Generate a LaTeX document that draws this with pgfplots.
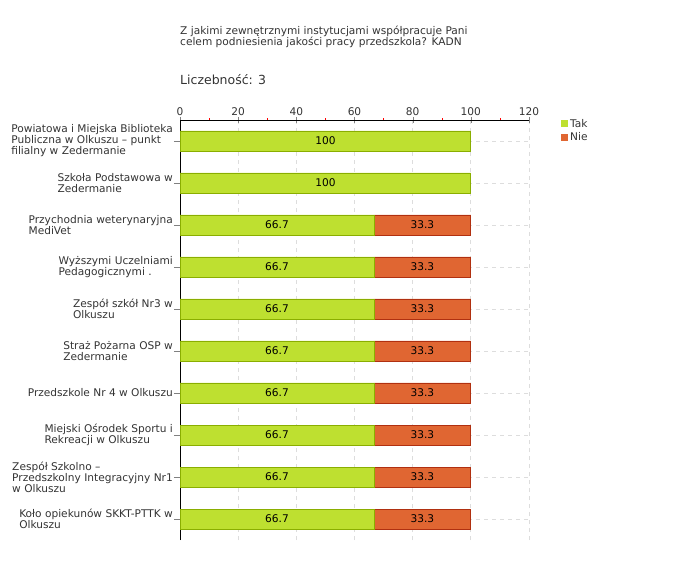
\documentclass[border=0pt]{standalone}
\usepackage{pgfplots}
\pgfplotsset{compat=1.18}
\usepackage{fontspec}
\setmainfont{DejaVu Sans}
\definecolor{takfill}{HTML}{BEE030}
\definecolor{takdraw}{HTML}{8AAE00}
\definecolor{niefill}{HTML}{E06632}
\definecolor{niedraw}{HTML}{B03010}
\definecolor{txt}{HTML}{333333}
\definecolor{gridc}{HTML}{DDDDDD}
\newcommand\sm{\fontsize{10.6}{11}\selectfont}
\begin{document}
\begin{tikzpicture}[x=1pt,y=1pt]
\useasboundingbox (0,0) rectangle (680,560);
\node[anchor=base west, text=txt, inner sep=0pt] at (180,525) {\sm Z jakimi zewnętrznymi instytucjami współpracuje Pani};
\node[anchor=base west, text=txt, inner sep=0pt] at (180,514) {\sm celem podniesienia jakości pracy przedszkola? KADN};
\node[anchor=base west, text=txt, inner sep=0pt] at (180,475) {\fontsize{12.5}{14}\selectfont Liczebność: 3};
\begin{axis}[
  at={(180pt,20pt)}, anchor=south west,
  scale only axis, width=349pt, height=420pt,
  xmin=0, xmax=120, ymin=-0.5, ymax=9.5,
  axis x line*=top, axis y line*=left,
  x axis line style={-}, y axis line style={-},
  xtick={0,20,...,120}, minor x tick num=1,
  xtick align=center, ytick align=outside,
  major tick length=6pt, minor tick length=3pt,
  minor x tick style={red},
  ytick={0,...,9},
  yticklabels={
    {Koło opiekunów SKKT-PTTK w\\Olkuszu},
    {Zespół Szkolno –\\Przedszkolny Integracyjny Nr1\\w Olkuszu},
    {Miejski Ośrodek Sportu i\\Rekreacji w Olkuszu},
    {Przedszkole Nr 4 w Olkuszu},
    {Straż Pożarna OSP w\\Zedermanie},
    {Zespół szkół Nr3 w\\Olkuszu},
    {Wyższymi Uczelniami\\Pedagogicznymi .},
    {Przychodnia weterynaryjna\\MediVet},
    {Szkoła Podstawowa w\\Zedermanie},
    {Powiatowa i Miejska Biblioteka\\Publiczna w Olkuszu – punkt\\filialny w Zedermanie}},
  yticklabel style={align=left, text=txt, font=\sm, inner sep=1pt},
  xticklabel style={text=txt, font=\sm, inner sep=1pt},
  /pgf/number format/assume math mode=true,
  xmajorgrids, ymajorgrids,
  major grid style={gridc, dash pattern=on 4pt off 4pt, line width=0.8pt},
  xbar stacked, bar width=20pt,
  legend style={draw=none, fill=none, at={(1.083,1.012)}, anchor=north west,
    font=\sm, text=txt, row sep=0pt},
  legend cell align=left,
  legend image code/.code={\fill[#1,draw=none] (0pt,-3.5pt) rectangle (7pt,3.5pt);},
]
\addplot[fill=takfill, draw=takdraw, line width=0.8pt,
  visualization depends on=rawx \as \rawx,
  nodes near coords={\pgfmathprintnumber{\rawx}},
  every node near coord/.style={anchor=center, font=\sm, text=black}]
  coordinates {(66.7,7) (66.7,6) (66.7,5) (66.7,4) (66.7,3) (66.7,2) (66.7,1) (66.7,0) (100,9) (100,8)};
\addlegendentry{Tak}
\addplot[fill=niefill, draw=niedraw, line width=0.8pt,
  visualization depends on=rawx \as \rawx,
  nodes near coords={\pgfmathprintnumber{\rawx}},
  every node near coord/.style={anchor=center, font=\sm, text=black}]
  coordinates {(33.3,7) (33.3,6) (33.3,5) (33.3,4) (33.3,3) (33.3,2) (33.3,1) (33.3,0)};
\addlegendentry{Nie}
\node[anchor=base, text=txt, font=\sm] at (rel axis cs:0.5,1) [yshift=18pt] {Odpowiedzi (\%)};
\end{axis}
\end{tikzpicture}
\end{document}
